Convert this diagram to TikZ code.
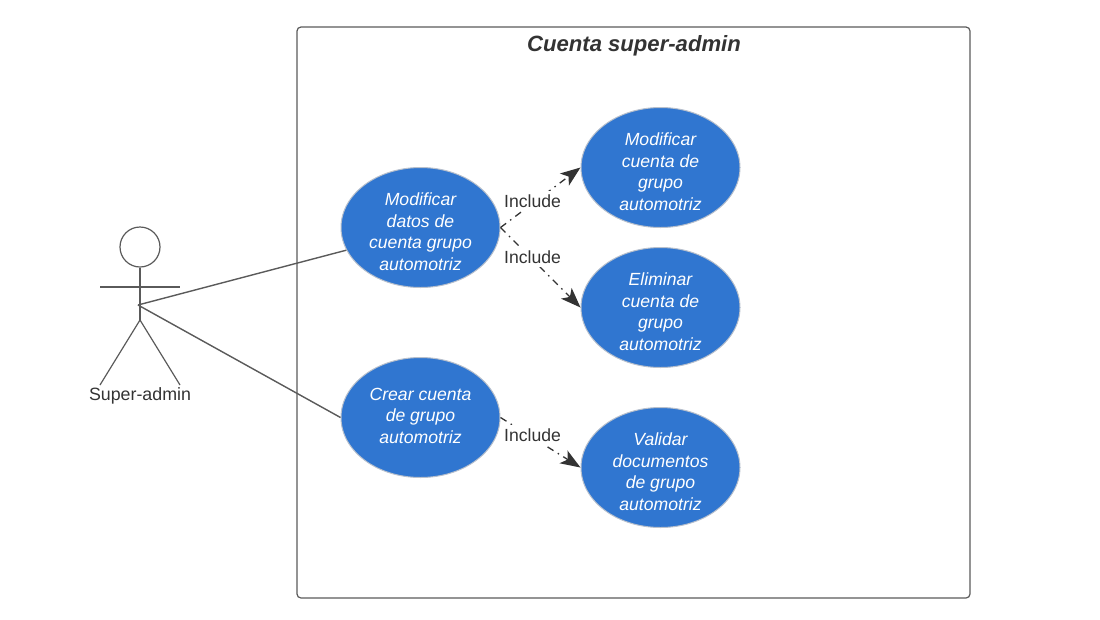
\documentclass[tikz,border=0pt]{standalone}
\usepackage{fontspec}
\setmainfont{Liberation Sans}
\usetikzlibrary{shapes.geometric,arrows.meta}
\definecolor{ink}{HTML}{333333}
\definecolor{stroke}{HTML}{5A5A5A}
\definecolor{usefill}{HTML}{3076D0}
\definecolor{useedge}{HTML}{B8C0CC}
\tikzset{
  usecase/.style={ellipse,draw=useedge,fill=usefill,line width=1pt,inner sep=0pt,minimum width=159pt,minimum height=120pt},
  usetext/.style={text=white,align=center,inner sep=0pt,yshift=-4pt,font=\fontsize{17.6}{21.5}\selectfont\itshape},
  frame/.style={draw=stroke,line width=1.2pt,rounded corners=4pt,minimum width=673pt,minimum height=571pt,inner sep=0pt},
  limb/.style={draw=stroke,line width=1.2pt},
  assoc/.style={draw=stroke,line width=1.4pt},
  incl/.style={draw=ink,line width=1.3pt,dash pattern=on 7pt off 5pt on 1.5pt off 5pt,-{Stealth[length=20pt,width=15pt,inset=5pt]}},
  lbl/.style={text=ink,fill=white,inner xsep=1pt,inner ysep=4pt,font=\fontsize{17.6}{21}\selectfont},
  head/.style={circle,draw=stroke,line width=1.2pt,minimum size=40pt,inner sep=0pt},
  titletext/.style={text=ink,inner sep=0pt,font=\fontsize{22.1}{26}\selectfont\bfseries\itshape}
}
\begin{document}
\begin{tikzpicture}[x=1pt,y=-1pt]
\useasboundingbox (0,0) rectangle (1100,619);
\node[frame] (sys) at (633.5,312.5) {};
\node[titletext] (title) at (634,45.5) {Cuenta super-admin};

% actor
\node[head] (hd) at (140,247) {};
\coordinate (hip) at (140,320);
\coordinate (armL) at (100,287);
\coordinate (armR) at (180,287);
\coordinate (legL) at (100,385);
\coordinate (legR) at (180,385);
\coordinate (act) at (138,305);
\draw[limb] (hd.south) -- (hip);
\draw[limb] (armL) -- (armR);
\draw[limb] (hip) -- (legL);
\draw[limb] (hip) -- (legR);
\node[text=ink,inner sep=0pt,font=\fontsize{17.8}{21}\selectfont] (actlbl) at (140,395.5) {Super-admin};

% use cases
\node[usecase,label={[usetext]center:{Modificar\\datos de\\cuenta grupo\\automotriz}}] (md) at (420.5,227.5) {};
\node[usecase,label={[usetext,yshift=6pt]center:{Crear cuenta\\de grupo\\automotriz}}] (cr) at (420.5,417.5) {};
\node[usecase,label={[usetext]center:{Modificar\\cuenta de\\grupo\\automotriz}}] (mc) at (660.5,167.5) {};
\node[usecase,label={[usetext]center:{Eliminar\\cuenta de\\grupo\\automotriz}}] (el) at (660.5,307.5) {};
\node[usecase,label={[usetext]center:{Validar\\documentos\\de grupo\\automotriz}}] (va) at (660.5,467.5) {};

% connectors
\draw[assoc] (act) -- (md.197);
\draw[assoc] (act) -- (cr.west);
\draw[incl] (md.east) -- (mc.west);
\draw[incl] (md.east) -- (el.west);
\draw[incl] (cr.east) -- (va.west);

% connector labels
\node[lbl] (l1) at (532.5,201) {Include};
\node[lbl] (l2) at (532.5,257) {Include};
\node[lbl] (l3) at (532.5,435) {Include};
\end{tikzpicture}
\end{document}
